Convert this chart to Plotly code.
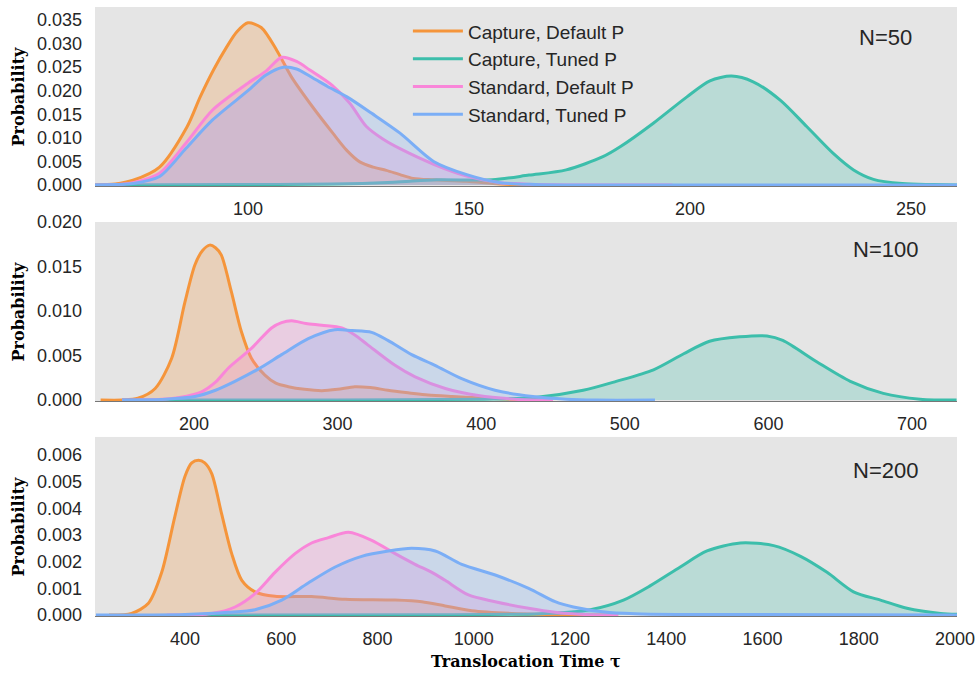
import plotly.graph_objects as go
from plotly.subplots import make_subplots

SERIES_NAMES = ["Capture, Default P", "Capture, Tuned P", "Standard, Default P", "Standard, Tuned P"]
PANEL_LABELS = ["N=50", "N=100", "N=200"]
X_TICKS_N50 = [100, 150, 200, 250]
X_TICKS_N100 = [200, 300, 400, 500, 600, 700]
X_TICKS_N200 = [400, 600, 800, 1000, 1200, 1400, 1600, 1800, 2000]

# ---------- N = 50 ----------
n50_cap_def_x = [65, 70, 74, 80, 86.2, 89.2, 92.2, 95.2, 97.5, 100, 103, 106.5, 109.8, 114.6, 119.2, 122.3, 125.3, 128.3, 131.3, 134.4, 137.4, 142, 149.5, 157, 165]
n50_cap_def_y = [0, 0.0002, 0.001, 0.0038, 0.0123, 0.0187, 0.0244, 0.0293, 0.0325, 0.0344, 0.0334, 0.0286, 0.023, 0.0166, 0.011, 0.0074, 0.0049, 0.0038, 0.0031, 0.0022, 0.0014, 0.0011, 0.0008, 0.0002, 0]
n50_cap_tun_x = [65, 97, 119, 133, 142.7, 155.3, 163.6, 172, 180.3, 184.2, 191.7, 199.3, 204.5, 209.4, 214.3, 220.4, 226.4, 232.4, 237, 241.5, 248, 255, 260.4]
n50_cap_tun_y = [0, 0.0001, 0.0002, 0.0006, 0.0011, 0.0011, 0.0021, 0.0032, 0.006, 0.0081, 0.0131, 0.0187, 0.0221, 0.0231, 0.0219, 0.018, 0.0124, 0.0067, 0.0032, 0.0012, 0.0003, 0.0001, 0]
n50_std_def_x = [65, 70, 74, 80, 86, 92, 100, 104, 107.7, 111, 114, 119, 123, 126.8, 130.6, 134.4, 142, 149.5, 157, 165, 196]
n50_std_def_y = [0, 0.0001, 0.0005, 0.0025, 0.0089, 0.0159, 0.0216, 0.0241, 0.0271, 0.0262, 0.0244, 0.0212, 0.0174, 0.0124, 0.0097, 0.0077, 0.0044, 0.0019, 0.0005, 0.0001, 0]
n50_std_tun_x = [65, 70, 74, 80, 86, 92, 100, 104, 108, 111, 114.7, 118, 122.4, 128, 134.4, 142, 149.5, 157, 165, 175, 260.4]
n50_std_tun_y = [0, 0.0001, 0.0003, 0.0018, 0.0078, 0.0138, 0.020, 0.0233, 0.025, 0.0246, 0.0227, 0.0209, 0.0187, 0.0152, 0.011, 0.005, 0.0022, 0.0005, 0.0001, 0, 0]

# ---------- N = 100 ----------
n100_cap_def_x = [135, 150, 161, 173, 184.5, 193.7, 200.7, 206, 211, 215, 219, 226, 233, 240, 249.4, 257, 265.7, 277, 289, 300, 312, 323, 335, 350, 363, 380, 398, 420, 450]
n100_cap_def_y = [0, 0, 0.0002, 0.0013, 0.0047, 0.011, 0.0152, 0.0168, 0.0174, 0.0171, 0.0163, 0.0122, 0.0077, 0.0047, 0.0028, 0.0019, 0.0015, 0.0012, 0.00105, 0.0012, 0.0015, 0.0014, 0.0011, 0.0008, 0.00056, 0.0004, 0.00026, 0.0001, 0]
n100_cap_tun_x = [150, 300, 400, 436, 471, 494, 520, 541, 559, 580, 599, 610, 633.6, 657, 680, 705.6, 731]
n100_cap_tun_y = [0, 0, 0.0001, 0.00026, 0.0011, 0.0021, 0.0034, 0.0052, 0.0066, 0.0071, 0.0072, 0.0067, 0.0043, 0.0021, 0.00075, 0.0001, 0]
n100_std_def_x = [150, 177.5, 190, 205, 215, 224, 240, 254, 261, 268, 278, 289, 303, 312, 321, 340, 354, 375, 398, 423.5, 450]
n100_std_def_y = [0, 0.0001, 0.0003, 0.0009, 0.002, 0.0036, 0.0058, 0.0081, 0.0087, 0.0089, 0.0086, 0.0084, 0.0081, 0.0073, 0.0062, 0.0039, 0.0026, 0.0013, 0.0005, 0.0001, 0]
n100_std_tun_x = [150, 180, 200.7, 215, 228.5, 245, 261, 279.6, 298, 310, 323.7, 335, 351.6, 367.8, 386.4, 409.6, 436, 459, 480, 521]
n100_std_tun_y = [0, 0.0001, 0.0004, 0.0011, 0.0021, 0.0035, 0.0051, 0.0069, 0.0079, 0.0078, 0.0076, 0.0067, 0.0051, 0.0039, 0.0024, 0.0011, 0.0004, 0.0001, 0, 0]

# ---------- N = 200 ----------
n200_cap_def_x = [242, 289, 324, 351.6, 379, 400, 414, 428, 441, 455.5, 476, 497, 518, 545.5, 587, 663, 733, 836.6, 892, 940.5, 996, 1079, 1200, 1300]
n200_cap_def_y = [0, 0.00006, 0.00044, 0.0016, 0.0037, 0.0052, 0.0057, 0.0058, 0.0057, 0.0053, 0.0038, 0.0023, 0.0013, 0.00087, 0.0007, 0.00069, 0.00059, 0.00056, 0.0005, 0.00034, 0.00016, 0.00006, 0.00001, 0]
n200_cap_tun_x = [400, 900, 1138, 1242, 1311, 1367, 1429, 1484.6, 1553.8, 1623, 1679, 1734, 1789, 1845, 1900, 1970, 2004]
n200_cap_tun_y = [0, 0.00001, 0.00005, 0.0002, 0.00056, 0.0011, 0.0018, 0.0024, 0.0027, 0.0026, 0.0022, 0.0016, 0.00087, 0.00056, 0.00025, 0.00006, 0.00003]
n200_std_def_x = [362, 455.5, 504, 545.5, 587, 628.7, 663, 698, 739.5, 788, 836.6, 878, 913, 940.5, 989, 1044.5, 1114, 1169, 1230, 1300]
n200_std_def_y = [0, 0.00006, 0.0003, 0.0008, 0.0016, 0.0023, 0.0027, 0.0029, 0.0031, 0.0028, 0.0023, 0.0019, 0.0016, 0.0013, 0.00075, 0.0005, 0.00025, 0.0001, 0.00002, 0]
n200_std_tun_x = [215, 400, 490, 545.5, 601, 656, 712, 767, 822.6, 871, 920, 975, 1044.5, 1114, 1169, 1207, 1277, 1350, 1500, 2004]
n200_std_tun_y = [0, 0.00002, 0.0001, 0.0002, 0.00056, 0.0012, 0.0018, 0.0022, 0.0024, 0.0025, 0.0024, 0.0019, 0.0015, 0.001, 0.0005, 0.0003, 0.0001, 0.00004, 0.00002, 0]

LINE_COLORS = ["#F5953B", "#3CBEAB", "#F986D9", "#7BAEF6"]
FILL_COLORS = ["rgba(245,149,59,0.25)", "rgba(60,190,171,0.25)",
               "rgba(249,134,217,0.25)", "rgba(123,174,246,0.25)"]

panels = [
    [(n50_cap_def_x, n50_cap_def_y), (n50_cap_tun_x, n50_cap_tun_y),
     (n50_std_def_x, n50_std_def_y), (n50_std_tun_x, n50_std_tun_y)],
    [(n100_cap_def_x, n100_cap_def_y), (n100_cap_tun_x, n100_cap_tun_y),
     (n100_std_def_x, n100_std_def_y), (n100_std_tun_x, n100_std_tun_y)],
    [(n200_cap_def_x, n200_cap_def_y), (n200_cap_tun_x, n200_cap_tun_y),
     (n200_std_def_x, n200_std_def_y), (n200_std_tun_x, n200_std_tun_y)],
]

fig = make_subplots(rows=3, cols=1)
for r, series in enumerate(panels):
    for i, (xs, ys) in enumerate(series):
        fig.add_trace(go.Scatter(
            x=xs, y=ys, mode="lines", name=SERIES_NAMES[i],
            line=dict(color=LINE_COLORS[i], width=3, shape="spline", smoothing=0.8),
            fill="tozeroy", fillcolor=FILL_COLORS[i],
            showlegend=False, hoverinfo="skip",
        ), row=r + 1, col=1)

# legend entries (line only, like the reference legend)
for i, name in enumerate(SERIES_NAMES):
    fig.add_trace(go.Scatter(
        x=[None], y=[None], mode="lines", name=name,
        line=dict(color=LINE_COLORS[i], width=3), showlegend=True, hoverinfo="skip",
    ), row=1, col=1)

TICK_FONT = dict(family="Liberation Sans, Arial, sans-serif", size=18, color="#262626")
x_ranges = [[65.4, 260.4], [131.1, 731.3], [213, 2004]]
x_ticks = [X_TICKS_N50, X_TICKS_N100, X_TICKS_N200]
y_ranges = [[-0.00021, 0.03776], [-0.00011, 0.02], [-0.0000375, 0.006675]]
y_dticks = [0.005, 0.005, 0.001]
domains = [[0.7061, 1.0], [0.353, 0.647], [0.0, 0.294]]

for k in range(3):
    sfx = "" if k == 0 else str(k + 1)
    fig.layout["xaxis" + sfx].update(
        range=x_ranges[k], tickvals=x_ticks[k], showgrid=False, zeroline=False,
        showline=True, linecolor="#777777", linewidth=1, ticks="",
        ticklabelstandoff=6, tickfont=TICK_FONT, domain=[0, 1], automargin=False)
    fig.layout["yaxis" + sfx].update(
        range=y_ranges[k], dtick=y_dticks[k], tick0=0, tickformat=".3f",
        showgrid=False, zeroline=False, showline=False, ticks="",
        ticklabelstandoff=12, tickfont=TICK_FONT, domain=domains[k], automargin=False)
    fig.add_annotation(
        text="<b>Probability</b>", textangle=-90, showarrow=False,
        xref="paper", x=-0.0882, xanchor="center",
        yref="y" + sfx + " domain", y=0.5, yanchor="middle",
        font=dict(family="DejaVu Serif", size=16, color="#000000"))

label_y = [0.832, 0.8436, 0.81]
for k in range(3):
    sfx = "" if k == 0 else str(k + 1)
    fig.add_annotation(
        text=PANEL_LABELS[k], showarrow=False,
        xref="x" + sfx + " domain", x=0.9176, xanchor="center",
        yref="y" + sfx + " domain", y=label_y[k], yanchor="middle",
        font=dict(family="Liberation Sans, Arial, sans-serif", size=22, color="#262626"))

fig.add_annotation(
    text="<b>Translocation Time \u03c4</b>", showarrow=False,
    xref="paper", x=0.5, xanchor="center",
    yref="paper", y=-0.075, yanchor="middle",
    font=dict(family="DejaVu Serif", size=16, color="#000000"))

fig.update_layout(
    width=978, height=673,
    margin=dict(l=95, r=21, t=7, b=57, autoexpand=False),
    paper_bgcolor="#ffffff", plot_bgcolor="#e5e5e5",
    legend=dict(x=0.363, y=0.9914, xanchor="left", yanchor="top",
                bgcolor="rgba(0,0,0,0)", itemwidth=50,
                font=dict(family="Liberation Sans, Arial, sans-serif", size=19, color="#262626")),
)

fig.write_html(
    "out.html",
    config={"displayModeBar": False},
    post_script="document.body.style.margin='0';document.body.style.overflow='hidden';",
)
